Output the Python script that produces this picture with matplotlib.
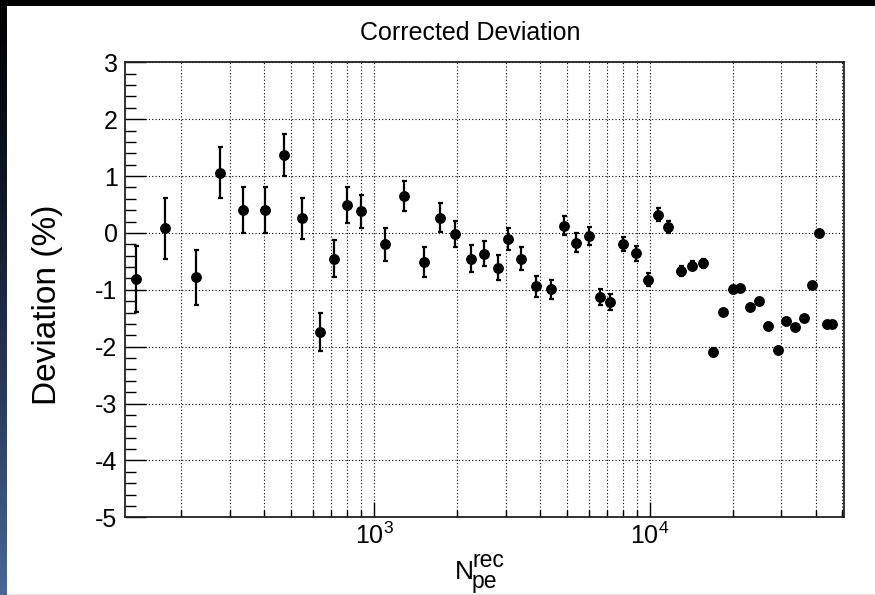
import numpy as np
import matplotlib
matplotlib.use("Agg")
import matplotlib.pyplot as plt
from matplotlib.ticker import FixedLocator, FixedFormatter, LogLocator, MultipleLocator, NullFormatter
from matplotlib.colors import LinearSegmentedColormap

plt.rcParams['font.family'] = ['Liberation Sans', 'DejaVu Sans']
plt.rcParams['mathtext.fontset'] = 'custom'
plt.rcParams['mathtext.rm'] = 'Liberation Sans'
plt.rcParams['mathtext.it'] = 'Liberation Sans:italic'

# ---- data ----
npe = [137, 175, 227, 277, 335, 402, 472, 548, 639, 716, 800, 895,
       1096, 1281, 1514, 1735, 1972, 2242, 2506, 2810, 3070, 3405, 3869, 4385,
       4876, 5418, 6007, 6620, 7178, 8022, 8918, 9883, 10718, 11651, 12953,
       14275, 15610, 16925, 18402, 20051, 21310, 23110, 24914, 26931, 29200,
       31300, 33650, 36280, 38790, 41130, 43850, 45950]
deviation = [-0.81, 0.08, -0.78, 1.06, 0.40, 0.40, 1.37, 0.26, -1.74, -0.45, 0.49, 0.38,
             -0.20, 0.65, -0.51, 0.27, -0.02, -0.45, -0.37, -0.61, -0.105, -0.45, -0.94, -0.99,
             0.13, -0.17, -0.06, -1.12, -1.22, -0.20, -0.36, -0.82, 0.32, 0.105, -0.67,
             -0.58, -0.53, -2.10, -1.39, -0.98, -0.97, -1.31, -1.19, -1.63, -2.05,
             -1.55, -1.65, -1.50, -0.92, -0.01, -1.60, -1.60]
error = [0.58, 0.53, 0.48, 0.45, 0.41, 0.40, 0.37, 0.36, 0.33, 0.33, 0.32, 0.29,
         0.29, 0.26, 0.27, 0.25, 0.23, 0.23, 0.22, 0.22, 0.20, 0.20, 0.19, 0.17,
         0.17, 0.16, 0.16, 0.14, 0.14, 0.12, 0.125, 0.11, 0.11, 0.10, 0.09,
         0.08, 0.08, 0.07, 0.05, 0.04, 0.04, 0.04, 0.04, 0.04, 0.04,
         0.03, 0.03, 0.03, 0.03, 0.03, 0.03, 0.03]
xtick_vals = [1e3, 1e4]
xtick_labels = [r'$\mathregular{10^{3}}$', r'$\mathregular{10^{4}}$']
title = "Corrected Deviation"
ylabel = "Deviation (%)"

W, H = 875, 595
fig = plt.figure(figsize=(W / 100, H / 100), dpi=100)
fig.patch.set_facecolor('white')

# background frame decorations
bg = fig.add_axes([0, 0, 1, 1], zorder=-5)
bg.axis('off')
grad = np.linspace(0, 1, 256).reshape(-1, 1)
cmap = LinearSegmentedColormap.from_list('strip', [(0, 0, 0), (0.06, 0.09, 0.15), (0.16, 0.23, 0.36), (0.29, 0.40, 0.59)])
bg.imshow(grad, extent=(0, 7, H, 0), aspect='auto', cmap=cmap, origin='upper')
bg.add_patch(plt.Rectangle((0, 0), W, 6, color='black', lw=0))
bg.add_patch(plt.Rectangle((7, 593.5), W - 7, 1.5, color='#e2e2e2', lw=0))
bg.set_xlim(0, W)
bg.set_ylim(H, 0)

left, right, top, bottom = 124.5, 844.3, 62.3, 517.3
ax = fig.add_axes([left / W, 1 - bottom / H, (right - left) / W, (bottom - top) / H])
ax.set_xscale('log')
ax.set_xlim(124.5, 50800)
ax.set_ylim(-5, 3)

ax.errorbar(npe, deviation, yerr=error, fmt='o', color='black', ms=6.8,
            elinewidth=1.6, capsize=1.8, capthick=1.6, zorder=3)

ax.xaxis.set_major_locator(FixedLocator(xtick_vals))
ax.xaxis.set_major_formatter(FixedFormatter(xtick_labels))
ax.xaxis.set_minor_locator(LogLocator(base=10, subs=np.arange(2, 10)))
ax.xaxis.set_minor_formatter(NullFormatter())
ax.yaxis.set_major_locator(MultipleLocator(1))
ax.yaxis.set_minor_locator(MultipleLocator(0.2))

ax.tick_params(axis='y', which='major', direction='in', length=15, width=1.0, labelsize=18, pad=5)
ax.tick_params(axis='y', which='minor', direction='in', length=8, width=1.0)
ax.tick_params(axis='x', which='major', direction='in', length=11, width=1.0, labelsize=18, pad=4)
ax.tick_params(axis='x', which='minor', direction='in', length=5, width=1.0)
ax.tick_params(top=False, right=False, which='both')

ax.grid(True, which='major', axis='y', linestyle=(0, (1, 2)), color='black', lw=0.8)
ax.grid(True, which='both', axis='x', linestyle=(0, (1, 2)), color='black', lw=0.8)
for s in ax.spines.values():
    s.set_linewidth(1.3)
    s.set_color('#222222')

ax.set_yticks(np.arange(-5, 4))
ax.set_yticklabels([str(v) for v in range(-5, 4)])

fig.text(470 / W, 1 - 33 / H, title, ha='center', va='center', fontsize=18)
fig.text(48 / W, 1 - 305 / H, ylabel, ha='center', va='center', rotation=90, fontsize=24)

# x label N_pe^rec
fig.text(455 / W, 1 - 579 / H, "N", ha='left', va='baseline', fontsize=19)
fig.text(472 / W, 1 - 567 / H, "rec", ha='left', va='baseline', fontsize=16.5)
fig.text(472 / W, 1 - 588 / H, "pe", ha='left', va='baseline', fontsize=16.5)

fig.savefig('out.png', dpi=100)
